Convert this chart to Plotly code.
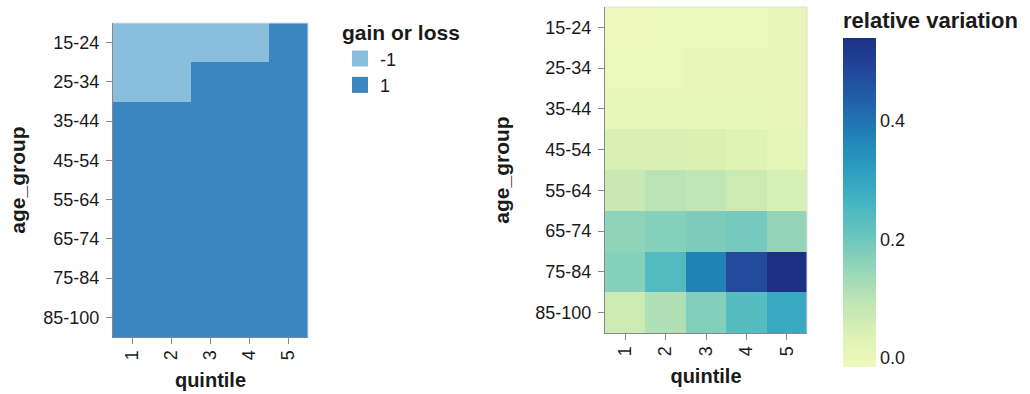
import plotly.graph_objects as go

W, H = 1030, 394

age_groups = ["15-24", "25-34", "35-44", "45-54", "55-64", "65-74", "75-84", "85-100"]
quintiles = ["1", "2", "3", "4", "5"]

# gain (1) or loss (-1) per age group (rows) and quintile (columns)
gain_or_loss = [
    [-1, -1, -1, -1, 1],
    [-1, -1, 1, 1, 1],
    [1, 1, 1, 1, 1],
    [1, 1, 1, 1, 1],
    [1, 1, 1, 1, 1],
    [1, 1, 1, 1, 1],
    [1, 1, 1, 1, 1],
    [1, 1, 1, 1, 1],
]

# relative variation per age group (rows) and quintile (columns)
relative_variation = [
    [-0.015, -0.008, -0.006, -0.004, 0.002],
    [-0.009, -0.005, 0.003, 0.004, 0.004],
    [0.008, 0.008, 0.006, 0.006, 0.005],
    [0.046, 0.046, 0.040, 0.029, 0.013],
    [0.074, 0.100, 0.090, 0.068, 0.050],
    [0.157, 0.168, 0.179, 0.190, 0.151],
    [0.168, 0.240, 0.373, 0.478, 0.539],
    [0.068, 0.112, 0.173, 0.235, 0.290],
]

gain_labels = ["-1", "1"]
gain_colors = ["#89bedc", "#3a86c0"]

ylgnbu = ["#eff9bd", "#dbf1b4", "#bde5b5", "#94d5b9", "#69c5be", "#45b4c2",
          "#2c9ec0", "#2182b8", "#2163aa", "#23479c", "#1c3185"]
colorscale = [[i / (len(ylgnbu) - 1), c] for i, c in enumerate(ylgnbu)]

FONT = "Arial, Liberation Sans, sans-serif"
TXT = "#1a1a1a"
AXC = "#888888"

fig = go.Figure()

fig.add_trace(go.Heatmap(
    x=quintiles, y=age_groups, z=gain_or_loss,
    colorscale=[[0, gain_colors[0]], [0.5, gain_colors[0]], [0.5, gain_colors[1]], [1, gain_colors[1]]],
    zmin=-1, zmax=1, showscale=False, xaxis="x", yaxis="y",
    hovertemplate="quintile %{x}<br>%{y}<br>gain or loss %{z}<extra></extra>",
))

for lab, col in zip(gain_labels, gain_colors):
    fig.add_trace(go.Scatter(
        x=[None], y=[None], mode="markers", name=lab,
        marker=dict(symbol="square", size=20, color=col),
        xaxis="x", yaxis="y", showlegend=True,
    ))

fig.add_trace(go.Heatmap(
    x=quintiles, y=age_groups, z=relative_variation,
    colorscale=colorscale, zmin=-0.015, zmax=0.539,
    xaxis="x2", yaxis="y2",
    colorbar=dict(
        title=dict(text="<b>relative variation</b>", side="top",
                   font=dict(family=FONT, size=22, color=TXT)),
        x=843 / W, xanchor="left", xpad=0,
        y=1 - 8 / H, yanchor="top", ypad=0,
        len=359, lenmode="pixels", thickness=33, thicknessmode="pixels",
        outlinewidth=0, ticks="",
        tickvals=[0, 0.2, 0.4], tickformat=".1f",
        tickfont=dict(family=FONT, size=18, color=TXT),
    ),
    hovertemplate="quintile %{x}<br>%{y}<br>relative variation %{z:.3f}<extra></extra>",
))

def xax(domain):
    return dict(
        domain=domain, type="category", categoryarray=quintiles,
        showline=True, linecolor=AXC, linewidth=1, mirror=False,
        ticks="outside", ticklen=6, tickcolor=AXC, tickwidth=1,
        tickangle=-90, ticklabelstandoff=-1,
        tickfont=dict(family=FONT, size=18, color=TXT),
        title=dict(text="<b>quintile</b>", standoff=13,
                   font=dict(family=FONT, size=20, color=TXT)),
        showgrid=False, zeroline=False, automargin=False, fixedrange=True,
    )

def yax(domain, anchor, standoff):
    return dict(
        domain=domain, type="category", categoryarray=age_groups, autorange="reversed",
        anchor=anchor,
        showline=True, linecolor=AXC, linewidth=1, mirror=False,
        ticks="outside", ticklen=6, tickcolor=AXC, tickwidth=1,
        ticklabelstandoff=3,
        tickfont=dict(family=FONT, size=18, color=TXT),
        title=dict(text="<b>age_group</b>", standoff=standoff,
                   font=dict(family=FONT, size=21, color=TXT)),
        showgrid=False, zeroline=False, automargin=False, fixedrange=True,
    )

fig.update_layout(
    width=W, height=H,
    margin=dict(l=0, r=0, t=0, b=0),
    paper_bgcolor="white", plot_bgcolor="white",
    font=dict(family=FONT, color=TXT),
    xaxis=dict(xax([113 / W, 308 / W]), anchor="y"),
    yaxis=yax([1 - 337 / H, 1 - 23 / H], "x", 11),
    xaxis2=dict(xax([605 / W, 807 / W]), anchor="y2"),
    yaxis2=yax([1 - 333 / H, 1 - 7 / H], "x2", 19),
    legend=dict(
        title=dict(text="<b>gain or loss</b>", font=dict(family=FONT, size=21, color=TXT)),
        x=340 / W, xanchor="left", y=1 - 13 / H, yanchor="top",
        font=dict(family=FONT, size=18, color=TXT),
        bgcolor="rgba(0,0,0,0)", borderwidth=0, tracegroupgap=0,
    ),
)

# light view frame on top and right edges
for xr, yr in (("x domain", "y domain"), ("x2 domain", "y2 domain")):
    fig.add_shape(type="line", xref=xr, yref=yr, x0=0, x1=1, y0=1, y1=1,
                  line=dict(color="#dddddd", width=1))
    fig.add_shape(type="line", xref=xr, yref=yr, x0=1, x1=1, y0=0, y1=1,
                  line=dict(color="#dddddd", width=1))

fig.write_html("out.html", config={"displayModeBar": False},
               post_script="document.body.style.margin='0px';")
